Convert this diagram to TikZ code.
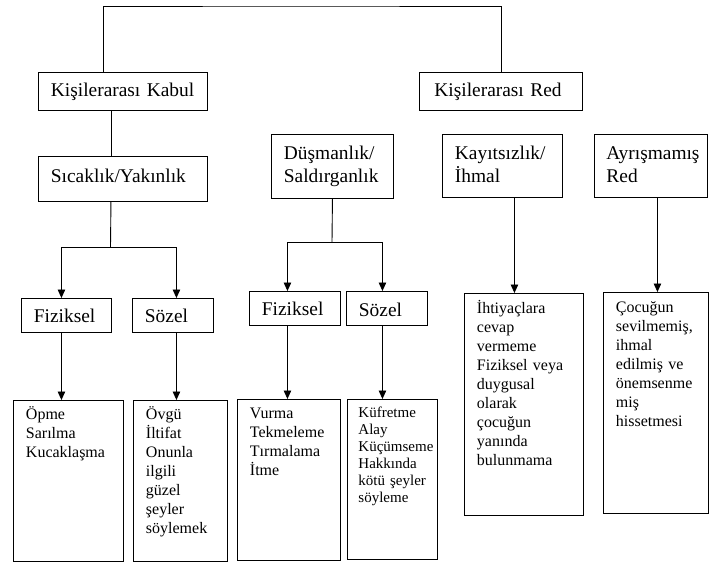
\documentclass[tikz,border=0pt]{standalone}
\usepackage{fontspec}
\setmainfont{Liberation Serif}
\usetikzlibrary{positioning, calc, arrows.meta}
\hyphenpenalty=10000

\newcommand{\buyukyazi}{\fontsize{19.4pt}{23.3pt}\selectfont}
\newcommand{\kucukyazi}{\fontsize{16pt}{19pt}\selectfont}
\newcommand{\enkucukyazi}{\fontsize{15pt}{17pt}\selectfont}

\begin{document}
\begin{tikzpicture}[x=1pt, y=-1pt, >={Triangle[width=7.5pt,length=8.5pt]},
    kutu/.style={draw, line width=0.9pt, rectangle, anchor=north west, inner xsep=12.5pt, inner ysep=0pt, align=left},
    ustkutu/.style={kutu, font=\buyukyazi},
    altkutu/.style={kutu, font=\kucukyazi},
    bag/.style={line width=0.9pt}]

    \useasboundingbox (0,0) rectangle (709,563);

    % Upper boxes
    \node[ustkutu, text width=144pt, text height=24pt, text depth=14pt] (kabul) at (38,72) {Kişilerarası Kabul};
    \node[ustkutu, inner xsep=15pt, text width=133pt, text height=24pt, text depth=14pt] (red) at (419,72) {Kişilerarası Red};
    \node[ustkutu, text width=144pt, text height=26pt, text depth=19pt] (sicak) at (38,156) {Sıcaklık/Yakınlık};
    \node[ustkutu, text width=97pt, text height=25pt, text depth=39pt] (dusman) at (271,134) {Düşmanlık/\\Saldırganlık};
    \node[ustkutu, text width=95pt, text height=25pt, text depth=38pt] (kayit) at (442,134) {Kayıtsızlık/\\İhmal};
    \node[ustkutu, inner xsep=12pt, text width=89pt, text height=25pt, text depth=38pt] (ayris) at (594,134) {Ayrışmamış\\Red};

    % Middle boxes
    \node[ustkutu, text width=65pt, text height=24.5pt, text depth=9.5pt] (fiz1) at (21,298) {Fiziksel};
    \node[ustkutu, text width=56pt, text height=24.5pt, text depth=9.5pt] (soz1) at (132,298) {Sözel};
    \node[ustkutu, text width=66pt, text height=24pt, text depth=10pt] (fiz2) at (249,291) {Fiziksel};
    \node[ustkutu, text width=56pt, text height=25pt, text depth=9pt] (soz2) at (346,291) {Sözel};

    % Lower boxes
    \node[altkutu, text width=85pt, text height=19pt, text depth=142pt] (ornek1) at (13,400) {Öpme\\Sarılma\\Kucaklaşma};
    \node[altkutu, text width=69pt, text height=19pt, text depth=142pt] (ornek2) at (133,400) {Övgü\\İltifat\\Onunla\\ilgili\\güzel\\şeyler\\söylemek};
    \node[altkutu, text width=78pt, text height=19pt, text depth=142pt] (ornek3) at (237,399) {Vurma\\Tekmeleme\\Tırmalama\\İtme};
    \node[altkutu, font=\enkucukyazi, inner xsep=11pt, text width=68pt, text height=18pt, text depth=142pt] (ornek4) at (347,399) {Küfretme\\Alay\\Küçümseme\\Hakkında\\kötü şeyler\\söyleme};
    \node[altkutu, text width=94pt, text height=20pt, text depth=202pt] (ornek5) at (464,293) {İhtiyaçlara\\cevap\\vermeme\\Fiziksel veya\\duygusal\\olarak\\çocuğun\\yanında\\bulunmama};
    \node[altkutu, text width=80pt, text height=20pt, text depth=201pt] (ornek6) at (603,292) {Çocuğun\\sevilmemiş,\\ihmal\\edilmiş ve\\önemsenme\\miş\\hissetmesi};

    % Top bracket
    \coordinate (tepe) at (300,6);
    \draw[bag] ([xshift=-19.5pt]kabul.north) |- (tepe) -| (red.north);
    \draw[bag] ([xshift=-12pt]kabul.south) -- ([xshift=-12pt]sicak.north);

    % Sicaklik branch
    \coordinate (dal1) at (110.5,247);
    \draw[bag] ([xshift=-12pt]sicak.south) -- (dal1);
    \draw[bag, ->] (dal1) -| ([xshift=-5pt]fiz1.north);
    \draw[bag, ->] (dal1) -| ([xshift=3.5pt]soz1.north);
    \coordinate (k1) at ([xshift=-5pt]fiz1.south);
    \coordinate (k2) at ([xshift=3.5pt]soz1.south);
    \draw[bag, ->] (k1) -- (k1 |- ornek1.north);
    \draw[bag, ->] (k2) -- (k2 |- ornek2.north);

    % Dusmanlik branch
    \coordinate (dal2) at (332,242);
    \draw[bag] (dusman.south) -- (dal2);
    \draw[bag, ->] (dal2) -| ([xshift=-7.5pt]fiz2.north);
    \draw[bag, ->] (dal2) -| ([xshift=-4.5pt]soz2.north);
    \coordinate (k3) at ([xshift=-7.5pt]fiz2.south);
    \coordinate (k4) at ([xshift=-4.5pt]soz2.south);
    \draw[bag, ->] (k3) -- (k3 |- ornek3.north);
    \draw[bag, ->] (k4) -- (k4 |- ornek4.north);

    % Kayitsizlik and Ayrismamis
    \coordinate (k5) at ([xshift=12pt]kayit.south);
    \coordinate (k6) at ([xshift=6.5pt]ayris.south);
    \draw[bag, ->] (k5) -- (k5 |- ornek5.north);
    \draw[bag, ->] (k6) -- (k6 |- ornek6.north);

\end{tikzpicture}
\end{document}
